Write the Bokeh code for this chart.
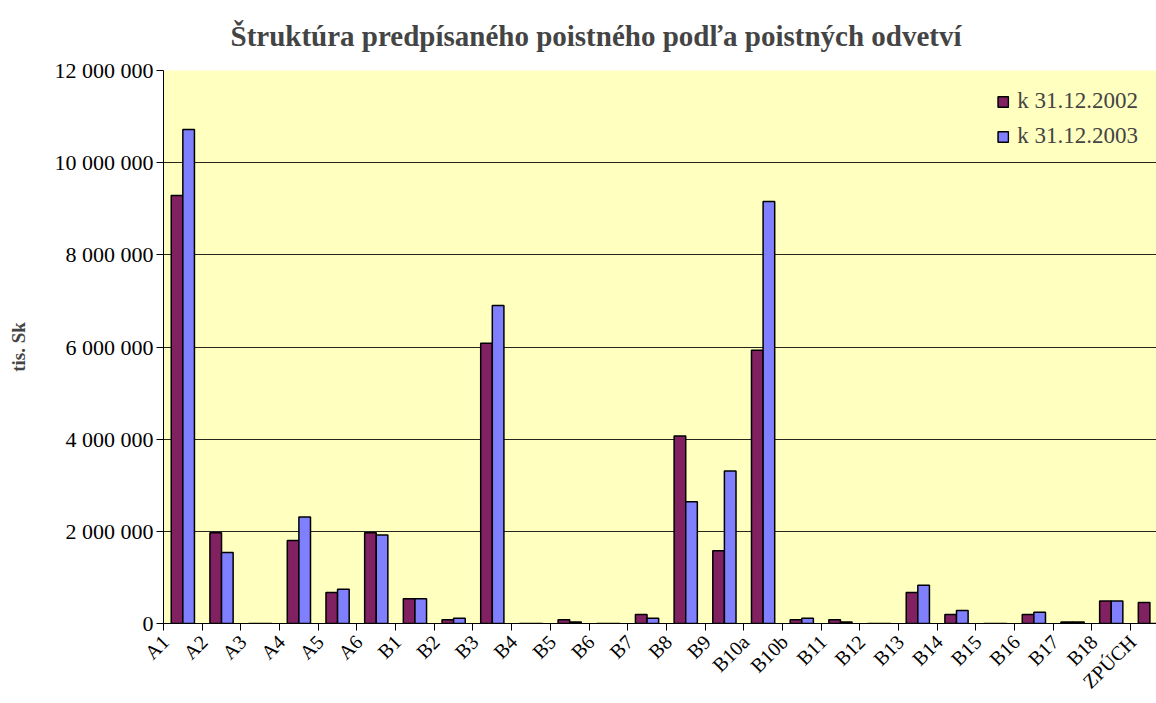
import numpy as np
from math import pi
from bokeh.plotting import figure
from bokeh.models import Range1d, FixedTicker, Legend, LegendItem, ColumnDataSource
from bokeh.embed import file_html
from bokeh.resources import INLINE

title_text = "Štruktúra predpísaného poistného podľa poistných odvetví"
y_label = "tis. Sk"

categories = ["A1", "A2", "A3", "A4", "A5", "A6", "B1", "B2", "B3", "B4", "B5", "B6",
              "B7", "B8", "B9", "B10a", "B10b", "B11", "B12", "B13", "B14", "B15",
              "B16", "B17", "B18", "ZPÚCH"]

series_names = ["k 31.12.2002", "k 31.12.2003"]

values_2002 = [9290000, 1970000, 0, 1800000, 670000, 1970000, 535000, 80000, 6080000, 0,
               80000, 0, 195000, 4070000, 1580000, 5930000, 80000, 80000, 0, 670000,
               195000, 0, 195000, 30000, 490000, 455000]
values_2003 = [10720000, 1540000, 0, 2310000, 745000, 1920000, 535000, 115000, 6900000, 0,
               35000, 0, 115000, 2640000, 3310000, 9160000, 115000, 35000, 0, 830000,
               280000, 0, 245000, 30000, 490000, 0]

y_ticks = [0, 2000000, 4000000, 6000000, 8000000, 10000000, 12000000]
y_tick_labels = ["0", "2 000 000", "4 000 000", "6 000 000", "8 000 000", "10 000 000", "12 000 000"]

FONT = "Liberation Serif"
C2002 = "#812161"
C2003 = "#8080FF"

n = len(categories)
idx = np.arange(n)
centers = idx + 0.5
bar_w = 0.3
label_shift = 0.45  # rotated labels hang to the left of their category, as in the original

src = ColumnDataSource(dict(
    x1=centers - bar_w / 2, x2=centers + bar_w / 2,
    v1=values_2002, v2=values_2003,
))

p = figure(width=1156, height=703,
           x_range=Range1d(0, 25.67), y_range=Range1d(0, 12000000),
           output_backend="svg", toolbar_location=None,
           min_border_left=163, min_border_right=0, min_border_top=70, min_border_bottom=80,
           background_fill_color="#FFFFC0", border_fill_color="white",
           outline_line_color=None)

p.title.text = title_text
p.title.text_font = FONT
p.title.text_font_style = "bold"
p.title.text_font_size = "29px"
p.title.align = "left"
p.title.offset = 67
p.title.vertical_align = "top"
p.title.standoff = 34

r1 = p.vbar(x="x1", top="v1", width=bar_w, source=src, fill_color=C2002,
            line_color="black", line_width=1.5)
r2 = p.vbar(x="x2", top="v2", width=bar_w, source=src, fill_color=C2003,
            line_color="black", line_width=1.5)

# x axis
label_pos = centers - label_shift
xa = p.xaxis[0]
xa.ticker = FixedTicker(ticks=list(label_pos), minor_ticks=list(range(n + 1)))
xa.major_label_overrides = {float(c): name for c, name in zip(label_pos, categories)}
xa.major_label_orientation = pi / 4
xa.major_tick_out = 0
xa.major_tick_in = 0
xa.minor_tick_out = 7
xa.minor_tick_in = 0
xa.minor_tick_line_color = "black"
xa.axis_line_color = "black"
xa.major_label_text_font = FONT
xa.major_label_text_font_size = "20px"
xa.major_label_text_color = "black"
xa.major_label_standoff = 8

# y axis
ya = p.yaxis[0]
ya.ticker = FixedTicker(ticks=y_ticks, minor_ticks=[])
ya.major_label_overrides = {t: lab for t, lab in zip(y_ticks, y_tick_labels)}
ya.major_tick_out = 7
ya.major_tick_in = 0
ya.major_tick_line_color = "black"
ya.axis_line_color = "black"
ya.major_label_text_font = FONT
ya.major_label_text_font_size = "22px"
ya.major_label_text_color = "black"
ya.major_label_standoff = 3
ya.axis_label = y_label
ya.axis_label_text_font = FONT
ya.axis_label_text_font_style = "bold"
ya.axis_label_text_font_size = "19px"
ya.axis_label_standoff = 23

p.xgrid.visible = False
p.ygrid.grid_line_color = "black"
p.ygrid.grid_line_alpha = 0.85
p.ygrid.grid_line_width = 1

legend = Legend(items=[LegendItem(label=series_names[0], renderers=[r1]),
                       LegendItem(label=series_names[1], renderers=[r2])],
                location="top_right", margin=18, padding=10,
                glyph_width=13, glyph_height=13, label_standoff=8,
                label_height=24, spacing=9,
                label_text_font=FONT, label_text_font_size="23px",
                background_fill_alpha=0, border_line_color=None)
p.add_layout(legend)

open("out.html", "w").write(file_html(p, INLINE))
